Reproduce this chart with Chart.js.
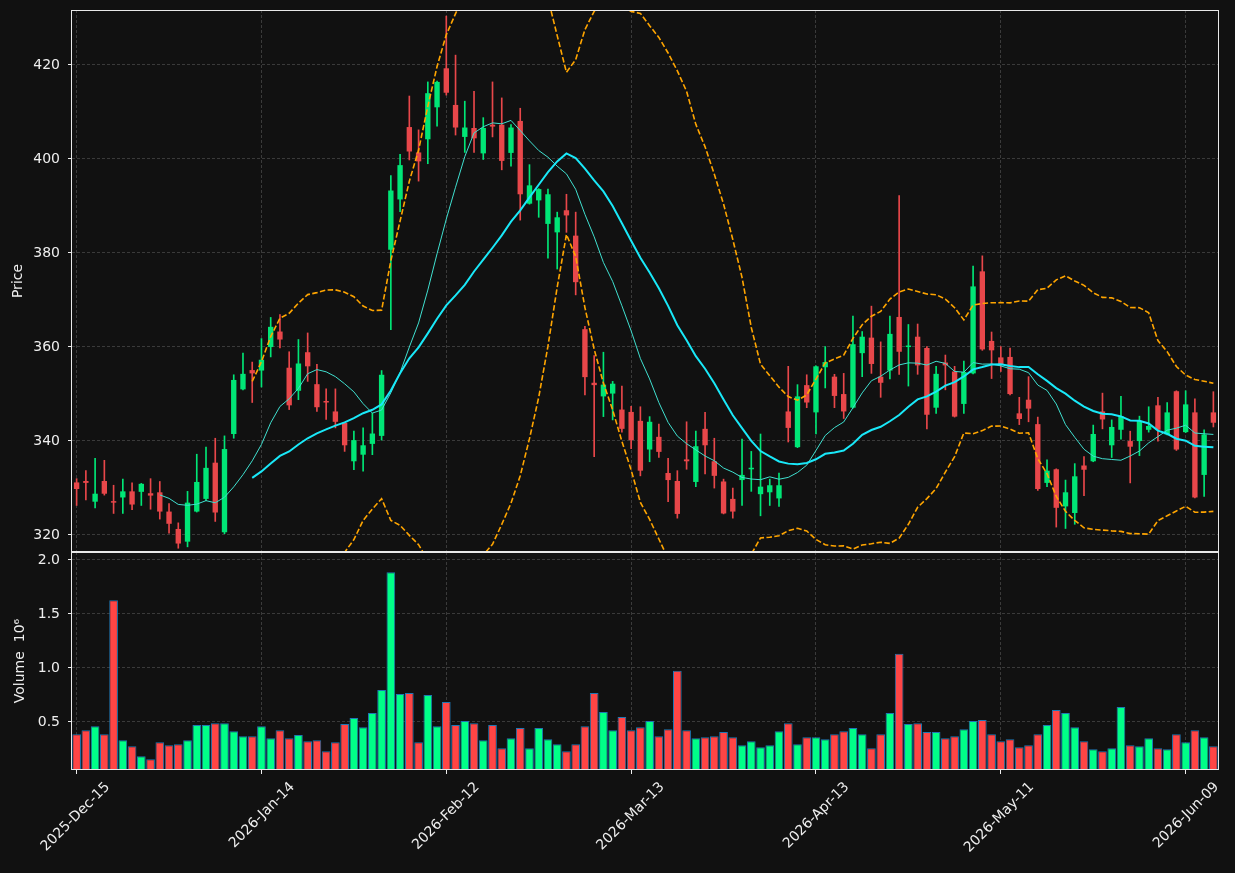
<!DOCTYPE html>
<html>
<head>
<meta charset="utf-8">
<script src="https://cdn.jsdelivr.net/npm/chart.js@4.4.1/dist/chart.umd.min.js"></script>
<style>
  body { margin: 0; background: #111111; }
  canvas { position: absolute; left: 0; }
</style>
</head>
<body>
<canvas id="priceChart" width="1235" height="553" style="top:0px"></canvas>
<canvas id="volChart" width="1235" height="321" style="top:552px"></canvas>
<script>
// daily OHLC, one entry per trading day (2025-12-15 .. 2026-06-12)
const open = [331.0,331.3,326.9,331.3,327.0,327.8,329.1,329.0,328.7,328.9,
  324.8,321.1,318.4,324.8,327.5,335.2,320.4,341.3,350.8,354.9,
  354.8,359.8,363.1,355.4,350.5,358.7,351.9,348.2,346.1,343.7,
  335.5,336.9,339.2,340.9,380.5,391.2,406.6,401.2,404.0,410.8,
  419.1,411.3,404.5,406.4,401.0,407.1,407.1,401.1,407.9,390.3,
  391.0,386.0,384.2,388.9,383.5,363.6,352.2,349.3,349.9,346.5,
  346.0,344.1,338.0,340.7,333.0,331.3,335.9,331.1,342.4,335.5,
  331.2,327.5,331.5,333.8,328.5,328.9,327.6,346.1,338.5,351.7,
  345.9,355.5,353.5,349.8,346.9,358.5,361.8,353.5,354.8,366.2,
  359.8,362.0,359.6,346.9,356.5,354.6,347.7,354.2,375.9,361.1,
  357.6,357.7,345.7,348.6,343.4,330.9,333.8,325.9,324.5,334.6,
  335.5,346.1,338.9,342.2,339.8,339.8,342.2,347.4,341.2,350.4,
  341.7,345.9,332.6,345.9];
const high = [331.8,333.5,336.1,335.7,330.4,331.7,330.9,330.8,331.8,331.2,
  326.5,322.4,329.1,337.0,338.5,340.4,340.9,353.9,358.5,356.6,
  361.6,366.1,366.7,358.8,361.4,362.8,356.1,350.9,350.9,343.8,
  341.9,342.6,345.7,354.8,396.3,400.8,413.2,406.0,416.2,416.4,
  430.2,421.9,412.1,414.2,408.6,416.2,412.8,407.1,410.6,398.6,
  393.5,393.4,388.5,392.3,388.5,364.2,358.0,358.7,352.5,351.5,
  347.2,347.1,345.0,343.4,336.1,333.5,343.9,341.9,345.9,340.4,
  331.7,329.8,340.2,337.6,341.3,331.7,333.0,355.7,351.8,353.9,
  355.8,359.9,354.0,354.2,366.4,363.1,368.5,360.9,366.4,392.0,
  364.6,364.7,359.9,355.7,358.1,355.7,356.8,377.0,379.2,363.0,
  359.9,359.6,349.1,353.5,344.9,335.8,333.9,331.5,335.0,336.5,
  343.2,350.0,344.3,349.3,341.9,345.1,347.1,349.1,348.0,350.5,
  350.5,348.8,342.2,350.3];
const low = [326.1,327.3,325.6,328.3,324.4,324.4,325.2,326.1,325.3,323.2,
  320.2,317.0,317.3,324.7,327.1,322.7,320.1,340.4,350.7,348.0,
  351.3,357.7,359.6,346.5,348.6,352.5,346.1,344.4,342.6,337.6,
  333.7,333.4,336.9,340.0,363.5,388.6,399.6,395.1,398.8,406.8,
  413.4,404.9,401.2,401.2,399.7,404.5,397.5,398.3,386.8,390.2,
  387.4,378.7,376.4,384.2,370.9,349.6,336.5,345.0,344.3,341.7,
  338.2,332.4,335.4,336.3,326.9,323.4,333.8,330.1,332.8,329.8,
  324.3,323.4,326.1,329.1,323.9,326.1,325.9,339.6,338.4,346.9,
  341.3,351.1,346.9,344.6,346.8,353.5,354.2,349.1,353.0,354.0,
  351.5,354.0,342.4,345.7,350.7,344.9,345.7,354.1,359.1,353.1,
  354.6,349.6,343.3,343.9,329.3,330.1,321.5,321.2,322.1,328.2,
  335.4,342.4,336.3,340.2,330.9,336.7,341.7,339.8,341.1,337.8,
  341.6,327.7,328.0,342.8];
const close = [329.6,330.9,328.6,328.6,326.7,329.1,326.3,330.7,328.2,324.8,
  322.2,318.0,326.7,331.1,334.1,324.6,338.1,352.8,354.1,354.2,
  357.1,364.1,361.4,347.4,356.3,355.7,347.0,348.0,343.9,338.9,
  340.0,338.9,341.4,353.9,393.1,398.5,401.4,399.3,413.8,416.2,
  413.9,406.5,406.5,404.2,406.4,406.7,399.4,406.5,392.3,394.2,
  393.4,392.3,387.4,387.8,373.6,353.4,351.7,351.8,352.0,342.4,
  340.0,333.5,343.9,337.5,331.5,324.3,335.5,338.7,338.9,332.4,
  324.4,324.8,332.6,334.1,330.1,330.4,330.4,342.6,349.3,348.0,
  355.7,356.6,349.4,346.1,360.4,362.0,356.2,352.2,362.6,358.8,
  360.1,355.9,345.4,354.1,355.9,345.0,354.5,372.7,359.3,359.1,
  356.0,349.8,344.5,346.7,329.6,333.5,325.6,328.9,332.3,333.7,
  341.3,344.4,342.8,345.1,338.6,344.1,343.0,342.2,345.9,338.0,
  347.6,327.8,341.2,343.7];
// volume in millions
const volume = [0.379,0.416,0.453,0.379,1.618,0.323,0.267,0.174,0.146,0.304,
  0.276,0.286,0.323,0.463,0.463,0.481,0.481,0.407,0.360,0.360,
  0.453,0.342,0.416,0.342,0.370,0.314,0.323,0.220,0.304,0.472,
  0.528,0.444,0.575,0.789,1.879,0.752,0.761,0.304,0.742,0.453,
  0.677,0.463,0.500,0.481,0.323,0.463,0.248,0.342,0.435,0.248,
  0.435,0.332,0.286,0.220,0.286,0.453,0.761,0.584,0.416,0.537,
  0.416,0.444,0.500,0.360,0.425,0.966,0.416,0.342,0.351,0.360,
  0.398,0.351,0.276,0.314,0.258,0.276,0.407,0.481,0.286,0.351,
  0.351,0.332,0.379,0.407,0.435,0.379,0.248,0.379,0.575,1.124,
  0.472,0.481,0.398,0.398,0.342,0.360,0.425,0.500,0.509,0.379,
  0.314,0.332,0.258,0.276,0.379,0.463,0.602,0.575,0.444,0.314,
  0.239,0.220,0.248,0.630,0.276,0.267,0.342,0.248,0.239,0.379,
  0.304,0.416,0.351,0.267];

const tickIndex = [0, 20, 40, 60, 80, 100, 120];
const tickLabels = ['2025-Dec-15','2026-Jan-14','2026-Feb-12','2026-Mar-13','2026-Apr-13','2026-May-11','2026-Jun-09'];
const priceTicks = [320, 340, 360, 380, 400, 420];
const volTicks = [0.5, 1.0, 1.5, 2.0];

const UP = '#00e676', DOWN = '#e8474a';
const UP_VOL = '#00ff88', DOWN_VOL = '#ff4545';
const gridColor = '#3a3a3a';
const textColor = '#eeeeee';
const FONT = { family: 'DejaVu Sans', size: 14 };

const n = close.length;
const idx = close.map((_, i) => i);
const isUp = idx.map(i => close[i] >= open[i]);

// rolling indicators from closes
function sma(len) {
  return idx.map(i => {
    if (i < len - 1) return { x: i, y: null };
    let s = 0;
    for (let k = i - len + 1; k <= i; k++) s += close[k];
    return { x: i, y: s / len };
  });
}
function band(len, mult) {
  const m = sma(len);
  return m.map((p, i) => {
    if (p.y === null) return { x: i, y: null };
    let ss = 0;
    for (let k = i - len + 1; k <= i; k++) ss += (close[k] - p.y) ** 2;
    return { x: i, y: p.y + mult * Math.sqrt(ss / (len - 1)) };
  });
}

const frame = {
  id: 'frame',
  afterDraw(chart) {
    const { ctx, chartArea: a } = chart;
    ctx.save();
    ctx.strokeStyle = '#e8e8e8';
    ctx.lineWidth = 1;
    ctx.strokeRect(a.left - 0.5, a.top + 0.5, a.right - a.left + 1, a.bottom - a.top - 1);
    ctx.restore();
  }
};

function xScale(showLabels) {
  return {
    type: 'linear',
    min: -0.5,
    max: n - 0.5,
    offset: false,
    afterBuildTicks: (s) => { s.ticks = tickIndex.map(v => ({ value: v })); },
    afterFit: (s) => {
      s.height = showLabels ? 103 : 0;
      s.paddingLeft = 0; s.paddingRight = 0;
    },
    grid: { color: gridColor, offset: false, drawTicks: showLabels, tickLength: 4, tickColor: textColor },
    border: { display: false, dash: [3, 2] },
    ticks: {
      display: showLabels,
      autoSkip: false,
      minRotation: 45,
      maxRotation: 45,
      padding: 5,
      labelOffset: 31,
      color: textColor,
      font: FONT,
      callback: (v) => tickLabels[tickIndex.indexOf(v)] || ''
    }
  };
}

function yScale(min, max, ticks, fmt, title, titlePad) {
  return {
    min: min,
    max: max,
    afterBuildTicks: (s) => { s.ticks = ticks.map(v => ({ value: v })); },
    afterFit: (s) => {
      s.width = 72;
      s.paddingTop = 0; s.paddingBottom = 0;
    },
    grid: { color: gridColor, tickLength: 4, tickColor: textColor },
    border: { display: false, dash: [3, 2] },
    ticks: { color: textColor, font: FONT, padding: 8, labelOffset: 1.5, callback: fmt },
    title: { display: true, text: title, color: textColor, font: FONT, padding: { top: titlePad, bottom: 0 } }
  };
}

const lineDs = (label, data, color, width, dash, order) => ({
  type: 'line', label, data, borderColor: color, borderWidth: width, borderDash: dash,
  pointRadius: 0, fill: false, tension: 0, spanGaps: false, order
});

new Chart(document.getElementById('priceChart'), {
  type: 'bar',
  data: {
    datasets: [
      lineDs('SMA20', sma(20), '#19e8f8', 2, [], 1),
      lineDs('SMA10', sma(10), '#40e0d0', 1, [], 2),
      lineDs('Upper', band(20, 2), '#ffa500', 1.6, [5.5, 2.4], 3),
      lineDs('Lower', band(20, -2), '#ffa500', 1.6, [5.5, 2.4], 3),
      {
        label: 'Body',
        data: idx.map(i => ({ x: i, y: [open[i], close[i]] })),
        backgroundColor: idx.map(i => isUp[i] ? UP : DOWN),
        barPercentage: 0.58, categoryPercentage: 1, grouped: false, minBarLength: 1.5, order: 4
      },
      {
        label: 'Wick',
        data: idx.map(i => ({ x: i, y: [low[i], high[i]] })),
        backgroundColor: idx.map(i => isUp[i] ? UP : DOWN),
        barThickness: 1, grouped: false, order: 5
      }
    ]
  },
  options: {
    responsive: false,
    animation: false,
    layout: { padding: { top: 10, bottom: 1, left: 0, right: 17 } },
    plugins: { legend: { display: false }, tooltip: { enabled: false } },
    scales: {
      x: xScale(false),
      y: yScale(316.2, 431.5, priceTicks, (v) => String(v), 'Price', 9.5)
    }
  },
  plugins: [frame]
});

new Chart(document.getElementById('volChart'), {
  type: 'bar',
  data: {
    datasets: [{
      label: 'Volume',
      data: idx.map(i => ({ x: i, y: volume[i] })),
      backgroundColor: idx.map(i => isUp[i] ? UP_VOL : DOWN_VOL),
      borderColor: '#1f77b4',
      borderWidth: 1,
      borderSkipped: false,
      barPercentage: 0.94, categoryPercentage: 1
    }]
  },
  options: {
    responsive: false,
    animation: false,
    layout: { padding: { top: 0, bottom: 0, left: 0, right: 17 } },
    plugins: { legend: { display: false }, tooltip: { enabled: false } },
    scales: {
      x: xScale(true),
      y: yScale(0.047, 2.066, volTicks, (v) => v.toFixed(1), 'Volume  10\u2076', 12)
    }
  },
  plugins: [frame]
});
</script>
</body>
</html>
